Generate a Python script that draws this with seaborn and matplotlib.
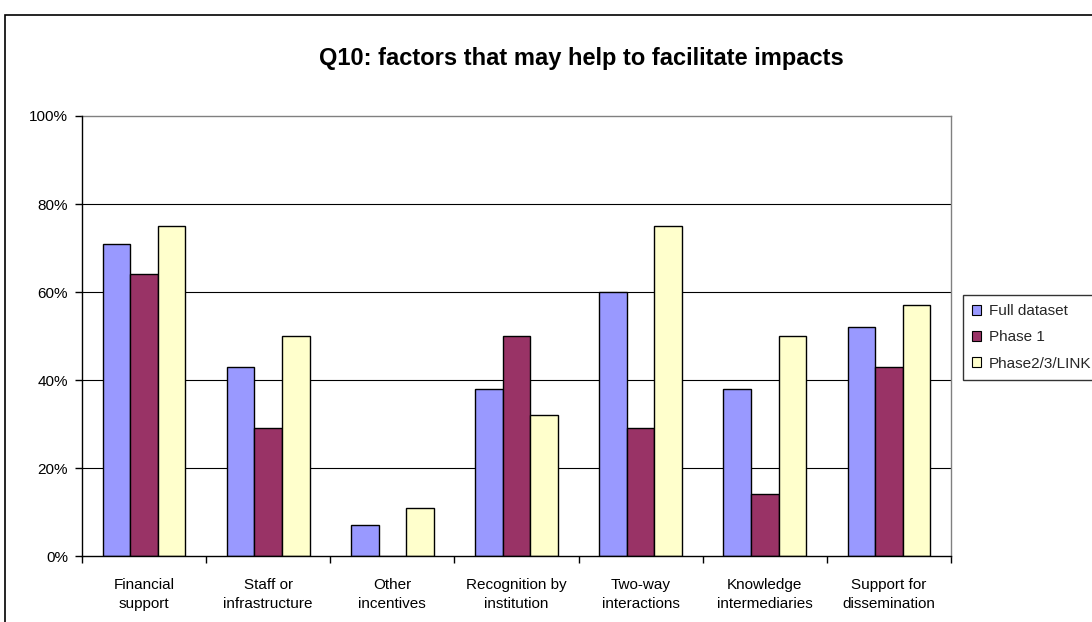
import matplotlib
matplotlib.use("Agg")
import matplotlib.pyplot as plt
import matplotlib.patches as mpatches
from matplotlib.ticker import PercentFormatter, FixedLocator, NullFormatter
import numpy as np
import pandas as pd
import seaborn as sns

# Survey answers: share of respondents naming each factor
categories = [
    "Financial\nsupport",
    "Staff or\ninfrastructure",
    "Other\nincentives",
    "Recognition by\ninstitution",
    "Two-way\ninteractions",
    "Knowledge\nintermediaries",
    "Support for\ndissemination",
]
series_names = ["Full dataset", "Phase 1", "Phase2/3/LINK"]
full_dataset = [71, 43, 7, 38, 60, 38, 52]
phase_1 = [64, 29, 0, 50, 29, 14, 43]
phase_2_3_link = [75, 50, 11, 32, 75, 50, 57]
y_ticks = [0, 20, 40, 60, 80, 100]

colors = ["#9999FF", "#993366", "#FFFFCC"]

df = pd.DataFrame({
    "factor": categories * 3,
    "series": [s for s in series_names for _ in categories],
    "value": full_dataset + phase_1 + phase_2_3_link,
})

sns.set_theme(style="white")
plt.rcParams["font.family"] = ["Liberation Sans", "DejaVu Sans"]

fig = plt.figure(figsize=(10.92, 6.22), dpi=100)
ax = fig.add_axes([82 / 1092, 1 - 556 / 622, (951 - 82) / 1092, (556 - 116) / 622])

sns.barplot(
    data=df, x="factor", y="value", hue="series",
    order=categories, hue_order=series_names,
    palette=colors, width=3 / 4.5, dodge=True,
    edgecolor="black", linewidth=1.0, saturation=1, ax=ax, legend=False,
    zorder=3,
)

ax.set_xlim(-0.5, len(categories) - 0.5)
ax.set_ylim(0, 100)
ax.set_xlabel("")
ax.set_ylabel("")

# Gridlines and axis styling
ax.set_yticks(y_ticks)
ax.yaxis.set_major_formatter(PercentFormatter(decimals=0))
for y in y_ticks[1:-1]:
    ax.axhline(y, color="black", lw=0.8, zorder=1)
ax.tick_params(axis="y", direction="out", length=5, width=1, color="black",
               labelsize=11, labelcolor="black", pad=5, left=True)

ax.xaxis.set_major_locator(FixedLocator(np.arange(-0.5, len(categories), 1.0)))
ax.xaxis.set_major_formatter(NullFormatter())
ax.xaxis.set_minor_locator(FixedLocator(np.arange(len(categories))))
ax.set_xticklabels(categories, minor=True)
ax.tick_params(axis="x", which="major", direction="out", length=5, width=1,
               color="black", bottom=True)
ax.tick_params(axis="x", which="minor", length=0, labelsize=11,
               labelcolor="black", pad=16)
for lbl in ax.get_xticklabels(minor=True):
    lbl.set_linespacing(1.45)

for side in ["left", "bottom"]:
    ax.spines[side].set_color("black")
    ax.spines[side].set_linewidth(1.0)
for side in ["top", "right"]:
    ax.spines[side].set_color("#808080")
    ax.spines[side].set_linewidth(1.0)
    ax.spines[side].set_visible(True)
ax.spines["left"].set_zorder(4)
ax.spines["bottom"].set_zorder(4)

# Legend
handles = [mpatches.Patch(facecolor=c, edgecolor="black", linewidth=0.8, label=n)
           for c, n in zip(colors, series_names)]
leg = fig.legend(handles=handles, loc="upper left",
                 bbox_to_anchor=(963 / 1092, 1 - 295 / 622),
                 frameon=True, fancybox=False, fontsize=11,
                 handlelength=0.6, handleheight=0.6, handletextpad=0.5,
                 labelspacing=0.8, borderpad=0.6, borderaxespad=0)
leg.get_frame().set_edgecolor("black")
leg.get_frame().set_linewidth(1.0)

# Title and chart frame
fig.text(581 / 1092, 1 - 58 / 622, "Q10: factors that may help to facilitate impacts",
         ha="center", va="center", fontsize=17, fontweight="bold", color="black")
fig.patches.append(mpatches.Rectangle((5 / 1092, -0.2), 1.3, 1.2 - 15 / 622,
                                      transform=fig.transFigure, fill=False,
                                      edgecolor="black", linewidth=1.2))

fig.savefig("out.png", dpi=100, facecolor="white")
